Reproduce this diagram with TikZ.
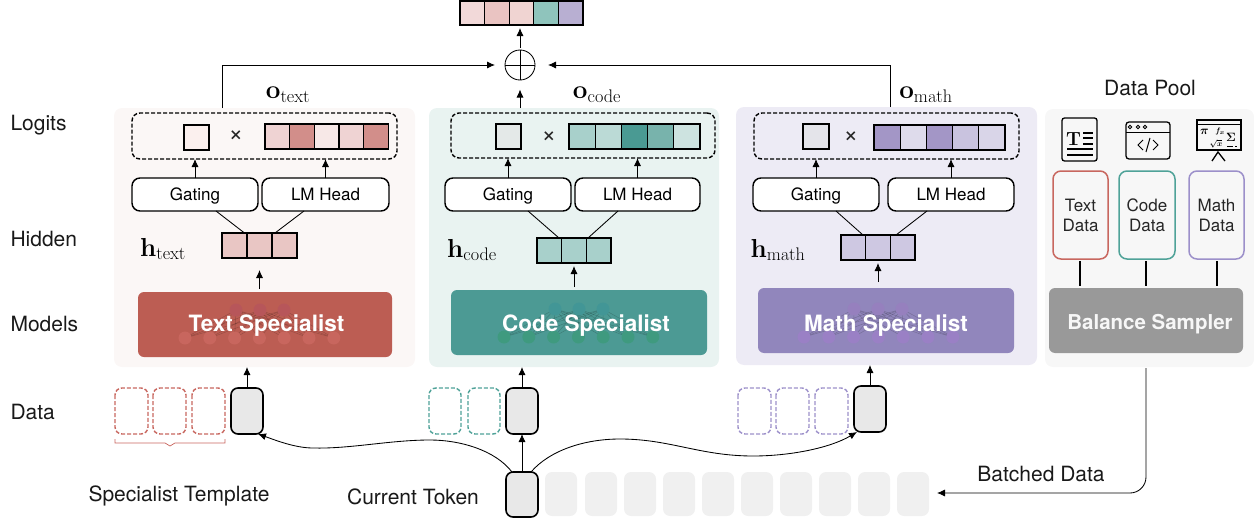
\RequirePackage{fix-cm}
\documentclass[tikz,border=0pt]{standalone}
\usepackage[no-math]{fontspec}
\usepackage{amsmath}
\setmainfont{TeX Gyre Heros}
\usetikzlibrary{arrows.meta,calc}
\definecolor{tA}{HTML}{EFD3D3}\definecolor{tB}{HTML}{D28E8A}\definecolor{tC}{HTML}{F7E8E7}\definecolor{tD}{HTML}{E9C6C4}\definecolor{tS}{HTML}{FBF0EE}
\definecolor{tP}{HTML}{FBF7F6}\definecolor{tM}{HTML}{BC5D53}\definecolor{tL}{HTML}{C8665E}\definecolor{tT}{HTML}{B7565A}
\definecolor{cA}{HTML}{A8D0CB}\definecolor{cB}{HTML}{BBDAD6}\definecolor{cC}{HTML}{4A9A93}\definecolor{cD}{HTML}{78B3AC}\definecolor{cE}{HTML}{CDE3E0}\definecolor{cS}{HTML}{E4E9E8}
\definecolor{cP}{HTML}{E9F3F1}\definecolor{cM}{HTML}{4C9A94}\definecolor{cL}{HTML}{3F9A7F}\definecolor{cT}{HTML}{429696}
\definecolor{mA}{HTML}{A396C6}\definecolor{mB}{HTML}{DEDBEB}\definecolor{mC}{HTML}{C9C3DF}\definecolor{mD}{HTML}{D9D5E8}\definecolor{mE}{HTML}{CEC8E2}\definecolor{mS}{HTML}{E4E4EA}
\definecolor{mP}{HTML}{EDEBF5}\definecolor{mM}{HTML}{9186BC}\definecolor{mL}{HTML}{9A80C5}\definecolor{mT}{HTML}{9680BE}
\definecolor{oA}{HTML}{F2D9D9}\definecolor{oB}{HTML}{EAC4C2}\definecolor{oC}{HTML}{F0D4D2}\definecolor{oD}{HTML}{8FC4BC}\definecolor{oE}{HTML}{B8AFD2}
\definecolor{tokg}{HTML}{E8E8E8}\definecolor{tokl}{HTML}{F0F0F0}\definecolor{poolp}{HTML}{F7F7F7}\definecolor{balg}{HTML}{999999}
\definecolor{tline}{HTML}{C8675F}\definecolor{cline}{HTML}{4FA298}\definecolor{mline}{HTML}{9C90CA}
\newcommand\sz[1]{\fontsize{#1}{#1}\selectfont}
% box: [style]{name}{x0}{y0}{x1}{y1}{text}
\newcommand\bx[7][]{\node[draw=none,inner sep=0pt,outer sep=0pt,align=center,#1,minimum width={(#5-#3)*1pt},minimum height={(#6-#4)*1pt}] (#2) at ({(#3+#5)/2},{(#4+#6)/2}) {#7};}
% row of cells: x0,y0,cell width,cell height,colours
\newcommand\cellrow[5]{\foreach \c [count=\i from 0] in {#5} {\draw[line width=1.35pt,fill=\c] ({#1+\i*#3},#2) rectangle ++(#3,#4);}}
% network: x first dot, spacing, top y, bottom y, dot, top dot, x of first top dot
\newcommand\netw[7]{%
 \foreach \j in {0,1,2} \foreach \i in {0,...,6} {\draw[black,opacity=.18,line width=.5pt] ({#7+\j*24},#3) -- ({#1+\i*#2},#4);}
 \foreach \i in {0,...,6} {\fill[#5] ({#1+\i*#2},#4) circle (6.5);}
 \foreach \j in {0,1,2} {\fill[#6] ({#7+\j*24},#3) circle (6.5);}}
\tikzset{
 x=1pt,y=-1pt,
 arr/.style={line width=.85pt,-{Latex[length=8pt,width=7pt]}},
 thin line/.style={line width=.85pt},
 panel/.style={rounded corners=8pt},
 rbox/.style={draw=black,line width=1.45pt,rounded corners=8pt,fill=white,font=\sz{17},text height=14pt,text depth=2pt},
 dbox/.style={draw=black,line width=1.4pt,dashed,dash pattern=on 4pt off 2pt,rounded corners=8pt},
 spec/.style={rounded corners=6pt,text=white,font=\sz{22.5}\bfseries},
 tok/.style={draw=black,line width=1.6pt,fill=tokg,rounded corners=7pt},
 ghost/.style={fill=tokl,rounded corners=7pt},
 tmpl/.style={line width=1.4pt,dash pattern=on 4pt off 2pt,rounded corners=7pt},
 databox/.style={line width=1.5pt,rounded corners=8pt,fill=poolp,font=\sz{17},text=black!85},
 lab/.style={font=\sz{21},text=black!90},
 mlab/.style={font=\sz{26}},
 timesign/.style={font=\sz{25},text=black!85},
 icon/.style={line width=1.3pt},
}
\begin{document}
\begin{tikzpicture}
\useasboundingbox (0,0) rectangle (1254,522);
% panels
\bx[panel,fill=tP]{tpanel}{114}{108}{415}{367}{}
\bx[panel,fill=cP]{cpanel}{429}{108}{719}{367}{}
\bx[panel,fill=mP]{mpanel}{736}{107}{1037}{365}{}
\bx[panel,fill=poolp]{pool}{1045}{109}{1254}{367}{}
% left labels
\node[lab,anchor=west] (l1) at (7,125) {Logits};
\node[lab,anchor=west] (l2) at (7,239) {Hidden};
\node[lab,anchor=west] (l3) at (7,324) {Models};
\node[lab,anchor=west] (l4) at (7,412) {Data};
% top vector and sum
\bx{topvec}{460}{1}{583}{25}{}
\cellrow{460}{1}{24.6}{24}{oA,oB,oC,oD,oE}
\node[draw,circle,line width=.85pt,minimum size=30pt,inner sep=0pt,outer sep=0pt] (plus) at (520,65) {};
\draw[line width=.85pt] (plus.north)--(plus.south) (plus.west)--(plus.east);
% text column
\bx[dbox]{tdash}{132}{113}{397}{159}{}
\bx{tsq}{184}{125}{209}{150}{}
\draw[line width=1.35pt,fill=tS] (tsq.north west) rectangle (tsq.south east);
\node[timesign] (tx) at (236,136) {×};
\cellrow{265}{124}{24.7}{25}{tA,tB,tC,tA,tB}
\bx[rbox]{tgate}{132}{178}{258}{211}{Gating}
\bx[rbox]{tlm}{262}{178}{389}{211}{LM Head}
\bx{thid}{222}{233}{297}{258}{}
\cellrow{222}{233}{25}{25}{tD,tD,tD}
\bx[spec,fill=tM]{tspec}{138}{292}{392}{357}{}
\netw{185}{24.8}{310}{338}{tL}{tT}{236}
\node[spec] (tspect) at (266.5,325.5) {Text Specialist};
\node[mlab] (ol1) at (288,95) {$\mathbf{o}_{\mathrm{text}}$};
\node[mlab] (hl1) at (163,249) {$\mathbf{h}_{\mathrm{text}}$};
% code column
\bx[dbox]{cdash}{451}{113}{715}{158}{}
\bx{csq}{496}{124}{521}{149}{}
\draw[line width=1.35pt,fill=cS] (csq.north west) rectangle (csq.south east);
\node[timesign] (cx) at (549,137) {×};
\cellrow{569}{124}{26.2}{25}{cA,cB,cC,cD,cE}
\bx[rbox]{cgate}{445}{178}{571}{211}{Gating}
\bx[rbox]{clm}{575}{178}{700}{211}{LM Head}
\bx{chid}{537}{238}{611}{263}{}
\cellrow{537}{238}{24.7}{25}{cA,cA,cA}
\bx[spec,fill=cM]{cspec}{451}{290}{707}{355}{}
\netw{504}{24.8}{309}{337}{cL}{cT}{555}
\node[spec] (cspect) at (586,326) {Code Specialist};
\node[mlab] (ol2) at (597,95) {$\mathbf{o}_{\mathrm{code}}$};
\node[mlab] (hl2) at (472,250) {$\mathbf{h}_{\mathrm{code}}$};
% math column
\bx[dbox]{mdash}{754}{113}{1019}{159}{}
\bx{msq}{803}{124}{829}{149}{}
\draw[line width=1.35pt,fill=mS] (msq.north west) rectangle (msq.south east);
\node[timesign] (mx) at (851,137) {×};
\cellrow{874}{125}{26.2}{25}{mA,mB,mA,mC,mD}
\bx[rbox]{mgate}{753}{178}{879}{211}{Gating}
\bx[rbox]{mlm}{888}{178}{1014}{211}{LM Head}
\bx{mhid}{841}{235}{915}{260}{}
\cellrow{841}{235}{24.7}{25}{mE,mE,mE}
\bx[spec,fill=mM]{mspec}{758}{288}{1014}{353}{}
\netw{804}{24.8}{309}{337}{mL}{mT}{854}
\node[spec] (mspect) at (886,326) {Math Specialist};
\node[mlab] (ol3) at (926,95) {$\mathbf{o}_{\mathrm{math}}$};
\node[mlab] (hl3) at (778,250) {$\mathbf{h}_{\mathrm{math}}$};
% arrows in columns
\foreach \n in {t,c,m} {
 \draw[arr] (\n gate.north) -- (\n gate.north |- \n dash.south);
 \draw[arr] (\n lm.north) -- (\n lm.north |- \n dash.south);
}
\draw[thin line] ([xshift=21pt]tgate.south) -- ([xshift=-15pt]thid.north);
\draw[thin line] ([xshift=-21.5pt]tlm.south) -- ([xshift=15.5pt]thid.north);
\draw[thin line] ([xshift=20pt]cgate.south) -- ([xshift=-15pt]chid.north);
\draw[thin line] ([xshift=-19.5pt]clm.south) -- ([xshift=14pt]chid.north);
\draw[thin line] ([xshift=20pt]mgate.south) -- ([xshift=-15pt]mhid.north);
\draw[thin line] ([xshift=-24pt]mlm.south) -- ([xshift=18pt]mhid.north);
\draw[arr,shorten >=12pt,shorten <=3pt] (tspec.north -| thid.south) -- (thid.south);
\draw[arr,shorten >=3pt,shorten <=3pt] (cspec.north -| chid.south) -- (chid.south);
\draw[arr,shorten >=3pt,shorten <=6pt] (mspec.north -| mhid.south) -- (mhid.south);
% into the sum
\draw[arr,shorten >=10pt] (tpanel.north -| thid.west) |- (plus.west);
\draw[arr,shorten >=13pt] ([xshift=3.5pt]mpanel.north) |- (plus.east);
\draw[arr,shorten >=9.5pt] (cpanel.north -| plus.south) -- (plus.south);
\draw[arr,shorten <=2.5pt,shorten >=3pt] (plus.north) -- (topvec.south -| plus.north);
% tokens
\foreach \x in {115,153,192} {\draw[tmpl,draw=tline] (\x,388) rectangle ++(33,46);}
\foreach \x in {429,468} {\draw[tmpl,draw=cline] (\x,388) rectangle ++(32,46);}
\foreach \x in {738,776,815} {\draw[tmpl,draw=mline] (\x,388) rectangle ++(33,46);}
\draw[draw=tline,line width=.7pt] (115,439) -- (115,443) -- (165,443) -- (170,446) -- (175,443) -- (225,443) -- (225,439);
\bx[tok]{ttok}{231}{388}{263}{434}{}
\bx[tok]{ctok}{506}{388}{538}{434}{}
\bx[tok]{mtok}{854}{386}{886}{432}{}
\bx[tok]{cur}{506}{472}{538}{517}{}
\foreach \x in {545,585,624,663,702,741,780,819,858,897} {\fill[ghost] (\x,472) rectangle ++(32,44);}
\draw[arr] (ttok.north) -- (ttok.north |- tpanel.south);
\draw[arr] (ctok.north) -- (ctok.north |- cpanel.south);
\draw[arr] (mtok.north) -- (mtok.north |- mpanel.south);
\draw[arr] (cur.north) -- (ctok.south);
\draw[arr] ([xshift=-10pt]cur.north) .. controls (495,450) and (460,440) .. (430,440) .. controls (390,440) and (350,449) .. (313,448) .. controls (295,448) and (275,440) .. ([xshift=-5pt]ttok.south east);
\draw[arr] ([xshift=9pt]cur.north) .. controls (550,450) and (585,439) .. (620,439) .. controls (670,439) and (700,456) .. (753,456) .. controls (790,456) and (830,448) .. ([xshift=3pt]mtok.south west);
\node[lab] (st) at (179,496) {Specialist Template};
\node[lab] (ct) at (413,497) {Current Token};
% data pool
\node[lab] (dp) at (1150,88) {Data Pool};
\bx[databox,draw=tline]{td}{1053}{171}{1108}{259}{Text\\[3pt]Data}
\bx[databox,draw=cline]{cd}{1119}{171}{1175}{259}{Code\\[3pt]Data}
\bx[databox,draw=mline]{md}{1189}{171}{1244}{259}{Math\\[3pt]Data}
\bx[rounded corners=6pt,fill=balg]{bal}{1049}{288}{1243}{353}{}
\node[text=poolp,font=\sz{20.5}\bfseries] (balt) at (1150,324) {Balance Sampler};
\draw[line width=1.2pt] (1080,261) -- (1080,286);
\draw[line width=1.2pt] (1146,261) -- (1146,286);
\draw[line width=1.2pt] (1217,261) -- (1217,286);
\coordinate (batch) at (937,493);
\draw[arr,rounded corners=16pt] (pool.south -| bal.south) ++(0,1) |- (batch);
\node[lab] (bd) at (1041,474) {Batched Data};
% icons
\draw[icon,rounded corners=2.5pt] (1062,118) rectangle (1097,161);
\node[font=\sz{19},inner sep=0pt] (icT) at (1073.5,138.5) {$\mathbf{T}$};
\draw[icon] (1083,133) -- (1093,133) (1083,138) -- (1093,138) (1083,144) -- (1093,144) (1067,149) -- (1093,149) (1067,155) -- (1093,155);
\draw[icon,rounded corners=3pt] (1126,122) rectangle (1170,159);
\draw[line width=1pt] (1126,132) -- (1170,132);
\foreach \x in {1130,1138,1145} {\draw[line width=.8pt] (\x,127) circle (1.7);}
\draw[line width=1pt] (1143,140) -- (1138,145) -- (1143,150) (1153,140) -- (1158,145) -- (1153,150) (1150,138) -- (1146,152);
\draw[icon] (1197,120) rectangle (1241,150);
\draw[line width=1pt] (1197,124) -- (1241,124);
\draw[icon] (1212,161) -- (1218,152) -- (1225,161);
\node[inner sep=0pt,font=\sz{12}] (ic1) at (1204.5,132) {$\boldsymbol{\pi}$};
\node[inner sep=0pt,font=\sz{8}] (ic2) at (1220,131) {$\boldsymbol{f_x}$};
\node[inner sep=0pt,font=\sz{8}] (ic3) at (1216,144) {$\boldsymbol{\sqrt{x}}$};
\node[inner sep=0pt,font=\sz{12}] (ic4) at (1231,137) {$\boldsymbol{\Sigma}$};
\draw[line width=.8pt] (1227,146) -- (1233,146) (1235,146) -- (1237,146);
\end{tikzpicture}
\end{document}
